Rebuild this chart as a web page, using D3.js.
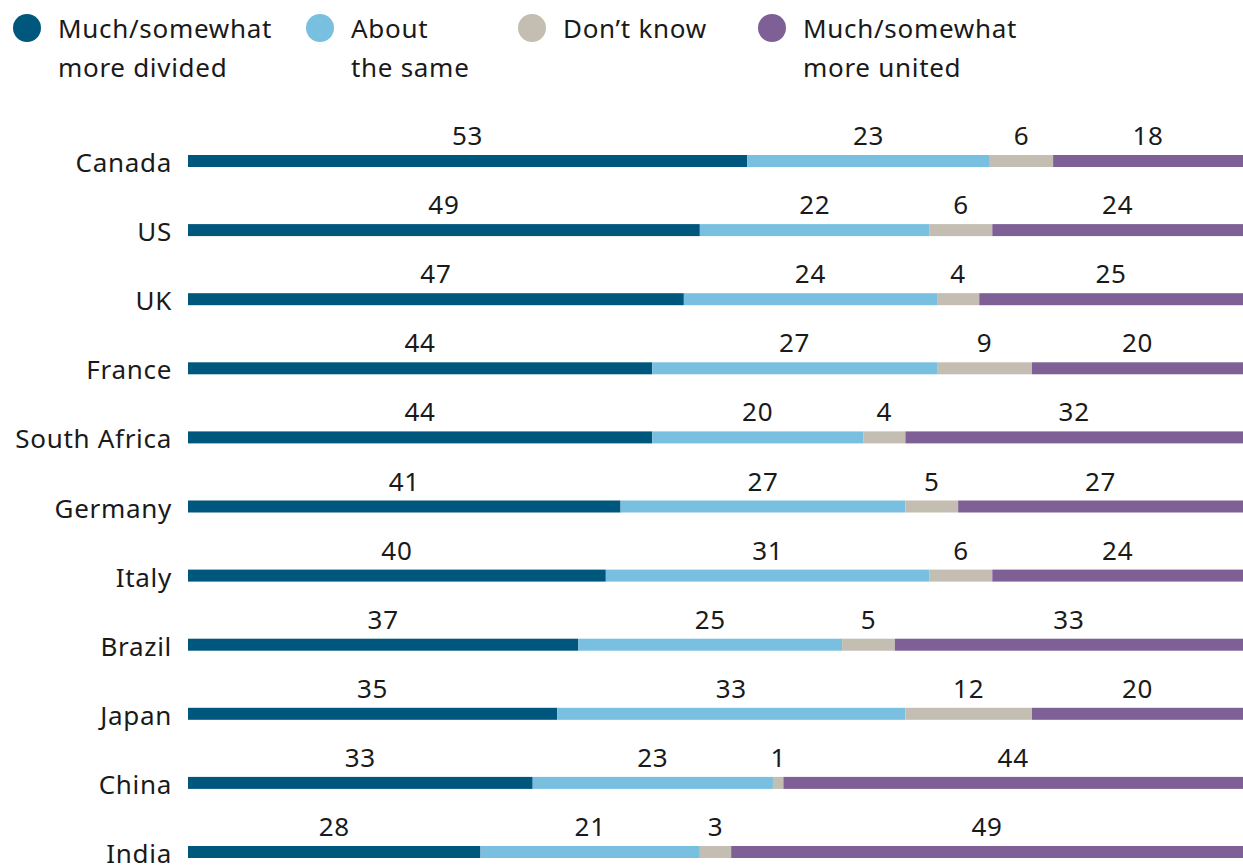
<!DOCTYPE html>
<html>
<head>
<meta charset="utf-8">
<script src="https://cdn.jsdelivr.net/npm/d3@7"></script>
<style>
  body { margin: 0; background: #fff; }
  svg text { font-family: "Noto Sans", "Open Sans", sans-serif; fill: #1a1a1a; letter-spacing: 0.7px; }
</style>
</head>
<body>
<div id="chart"></div>
<script>
var countries = ["Canada", "US", "UK", "France", "South Africa", "Germany", "Italy", "Brazil", "Japan", "China", "India"];
var moreDivided = [53, 49, 47, 44, 44, 41, 40, 37, 35, 33, 28];
var aboutSame   = [23, 22, 24, 27, 20, 27, 31, 25, 33, 23, 21];
var dontKnow    = [6, 6, 4, 9, 4, 5, 6, 5, 12, 1, 3];
var moreUnited  = [18, 24, 25, 20, 32, 27, 24, 33, 20, 44, 49];

var seriesKeys = ["divided", "same", "dk", "united"];
var seriesLabels = [["Much/somewhat", "more divided"], ["About", "the same"], ["Don\u2019t know"], ["Much/somewhat", "more united"]];
var colors = ["#00577e", "#79bfe0", "#c4bdb2", "#7f6096"];

var W = 1243, H = 865;
var margin = {left: 188, right: 0};

var rows = countries.map(function(c, i) {
	return {country: c, divided: moreDivided[i], same: aboutSame[i], dk: dontKnow[i], united: moreUnited[i]};
});

var svg = d3.select("#chart").append("svg")
	.attr("width", W)
	.attr("height", H);

var color = d3.scaleOrdinal(seriesKeys, colors);

// legend
var legendX = [27, 320, 532, 772];
var legend = svg.selectAll(".legend")
	.data(seriesKeys)
	.enter().append("g")
	.attr("class", "legend")
	.attr("transform", function(d, i) { return "translate(" + legendX[i] + ",0)"; });

legend.append("circle")
	.attr("cx", 0)
	.attr("cy", 28)
	.attr("r", 14)
	.attr("fill", function(d) { return color(d); });

legend.append("text")
	.attr("x", 31)
	.attr("y", 38)
	.style("font-size", "26px")
	.selectAll("tspan")
	.data(function(d, i) { return seriesLabels[i]; })
	.enter().append("tspan")
	.attr("x", 31)
	.attr("dy", function(d, i) { return i === 0 ? 0 : 39; })
	.text(function(d) { return d; });

// rows
var y = d3.scalePoint()
	.domain(countries)
	.range([161, 852]);

var stack = d3.stack().keys(seriesKeys);
var stacked = stack(rows);

var barH = 12;

var rowG = svg.selectAll(".row")
	.data(rows)
	.enter().append("g")
	.attr("class", "row")
	.attr("transform", function(d) { return "translate(0," + y(d.country) + ")"; });

rowG.append("text")
	.attr("x", 172)
	.attr("y", 11)
	.attr("text-anchor", "end")
	.style("font-size", "26px")
	.text(function(d) { return d.country; });

rowG.each(function(d, i) {
	var total = d.divided + d.same + d.dk + d.united;
	var x = d3.scaleLinear().domain([0, total]).range([margin.left, W - margin.right]);
	var g = d3.select(this);
	var segs = stacked.map(function(s) { return {key: s.key, v0: s[i][0], v1: s[i][1], val: d[s.key]}; });

	g.selectAll("rect")
		.data(segs)
		.enter().append("rect")
		.attr("x", function(s) { return x(s.v0); })
		.attr("y", -barH / 2)
		.attr("width", function(s) { return x(s.v1) - x(s.v0); })
		.attr("height", barH)
		.attr("fill", function(s) { return color(s.key); });

	g.selectAll(".val")
		.data(segs)
		.enter().append("text")
		.attr("class", "val")
		.attr("x", function(s) { return (x(s.v0) + x(s.v1)) / 2; })
		.attr("y", -16)
		.attr("text-anchor", "middle")
		.style("font-size", "26px")
		.text(function(s) { return s.val; });
});
</script>
</body>
</html>
